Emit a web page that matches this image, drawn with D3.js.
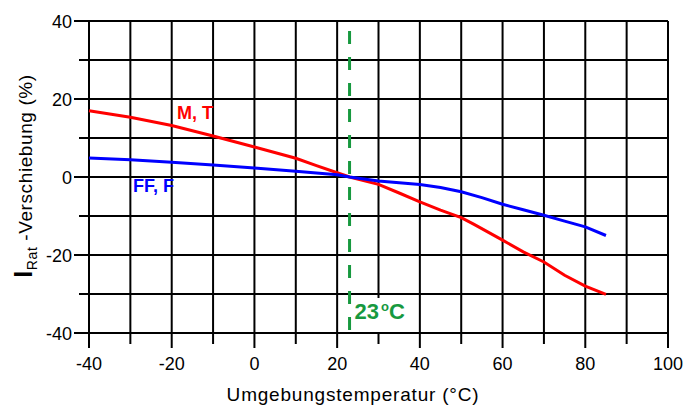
<!DOCTYPE html>
<html>
<head>
<meta charset="utf-8">
<script src="https://cdn.jsdelivr.net/npm/d3@7"></script>
<style>
  body { margin: 0; background: #fff; }
  svg { display: block; }
  text { font-family: "Liberation Sans", Arial, sans-serif; }
  .narrow { font-family: "Liberation Sans Narrow", "Arial Narrow", "Liberation Sans", Arial, sans-serif; }
</style>
</head>
<body>
<div id="chart"></div>
<script>
// temperatures (°C) and shift (%)
const tempMT = [-40, -30, -20, -10, 0, 10, 15, 20, 23, 30, 35, 40, 45, 50, 53, 60, 65, 70, 75, 80, 85];
const shiftMT = [17.0, 15.3, 13.2, 10.5, 7.7, 4.8, 2.9, 1.1, 0, -1.9, -4.1, -6.4, -8.5, -10.4, -12.1, -16.2, -19.2, -21.8, -25.2, -28.0, -30.1];

const tempFF = [-40, -30, -20, -10, 0, 10, 20, 23, 30, 35, 40, 45, 50, 55, 60, 65, 70, 75, 80, 85];
const shiftFF = [4.9, 4.4, 3.8, 3.1, 2.3, 1.5, 0.6, 0, -1.0, -1.5, -1.9, -2.7, -3.8, -5.3, -7.0, -8.4, -9.8, -11.3, -12.8, -15.0];

const xTicks = [-40, -30, -20, -10, 0, 10, 20, 30, 40, 50, 60, 70, 80, 90, 100];
const yTicks = [-40, -30, -20, -10, 0, 10, 20, 30, 40];
const refTemp = 23;

const width = 698, height = 405;
const margin = {top: 21, right: 30, bottom: 72, left: 89};

const svg = d3.select("#chart").append("svg")
    .attr("width", width)
    .attr("height", height);

const x = d3.scaleLinear().domain([-40, 100]).range([margin.left, width - margin.right]);
const y = d3.scaleLinear().domain([-40, 40]).range([height - margin.bottom, margin.top]);

const major = d => d % 20 === 0;

// vertical grid lines + ticks below
svg.append("g").selectAll("line")
    .data(xTicks)
    .join("line")
    .attr("x1", d => x(d)).attr("x2", d => x(d))
    .attr("y1", y(40))
    .attr("y2", d => y(-40) + (major(d) ? 15 : 11))
    .attr("stroke", "#000")
    .attr("stroke-width", 2);

// horizontal grid lines + ticks left
svg.append("g").selectAll("line")
    .data(yTicks)
    .join("line")
    .attr("x1", d => x(-40) - (major(d) ? 15 : 10))
    .attr("x2", x(100))
    .attr("y1", d => y(d)).attr("y2", d => y(d))
    .attr("stroke", "#000")
    .attr("stroke-width", 2);

// tick labels
svg.append("g").selectAll("text")
    .data(xTicks.filter(major))
    .join("text")
    .attr("x", d => x(d))
    .attr("y", y(-40) + 37)
    .attr("text-anchor", "middle")
    .style("font-size", "18px")
    .text(d => d);

svg.append("g").selectAll("text")
    .data(yTicks.filter(major))
    .join("text")
    .attr("x", x(-40) - 17)
    .attr("y", d => y(d) + 7)
    .attr("text-anchor", "end")
    .style("font-size", "18px")
    .text(d => d);

// reference temperature
svg.append("line")
    .attr("x1", x(refTemp)).attr("x2", x(refTemp))
    .attr("y1", y(40) + 10).attr("y2", y(-40))
    .attr("stroke", "#17993f")
    .attr("stroke-width", 3)
    .attr("stroke-dasharray", "13,13");

svg.append("rect")
    .attr("x", x(refTemp) + 3)
    .attr("y", y(-30) + 4)
    .attr("width", 52)
    .attr("height", y(-40) - y(-30) - 5)
    .attr("fill", "#fff");

svg.append("text")
    .attr("class", "narrow")
    .attr("x", x(refTemp) + 5)
    .attr("y", y(-40) - 14)
    .attr("fill", "#17993f")
    .style("font-size", "22px")
    .style("font-weight", "bold")
    .html('23<tspan dx="2" dy="-8" style="font-size:13px">o</tspan><tspan dy="8">C</tspan>');

// curves
const line = d3.line()
    .x(d => x(d[0]))
    .y(d => y(d[1]));

svg.append("path")
    .datum(d3.zip(tempMT, shiftMT))
    .attr("fill", "none")
    .attr("stroke", "#ff0000")
    .attr("stroke-width", 3)
    .attr("d", line);

svg.append("path")
    .datum(d3.zip(tempFF, shiftFF))
    .attr("fill", "none")
    .attr("stroke", "#0000ff")
    .attr("stroke-width", 3)
    .attr("d", line);

svg.append("text")
    .attr("class", "narrow")
    .attr("x", 177).attr("y", 119)
    .attr("fill", "#ff0000")
    .style("font-size", "18px")
    .style("font-weight", "bold")
    .text("M, T");

svg.append("text")
    .attr("class", "narrow")
    .attr("x", 133).attr("y", 192)
    .attr("fill", "#0000ff")
    .style("font-size", "18px")
    .style("font-weight", "bold")
    .text("FF, F");

// axis titles
svg.append("text")
    .attr("x", 353).attr("y", 401)
    .attr("text-anchor", "middle")
    .style("font-size", "19px")
    .style("letter-spacing", "0.8px")
    .text("Umgebungstemperatur (°C)");

svg.append("text")
    .attr("transform", "translate(32,176) rotate(-90)")
    .attr("text-anchor", "middle")
    .style("font-size", "19px")
    .style("letter-spacing", "0.6px")
    .html('<tspan style="font-size:25px;font-weight:bold">I</tspan><tspan dy="5" style="font-size:14px">Rat</tspan><tspan dy="-5"> -Verschiebung (%)</tspan>');
</script>
</body>
</html>
